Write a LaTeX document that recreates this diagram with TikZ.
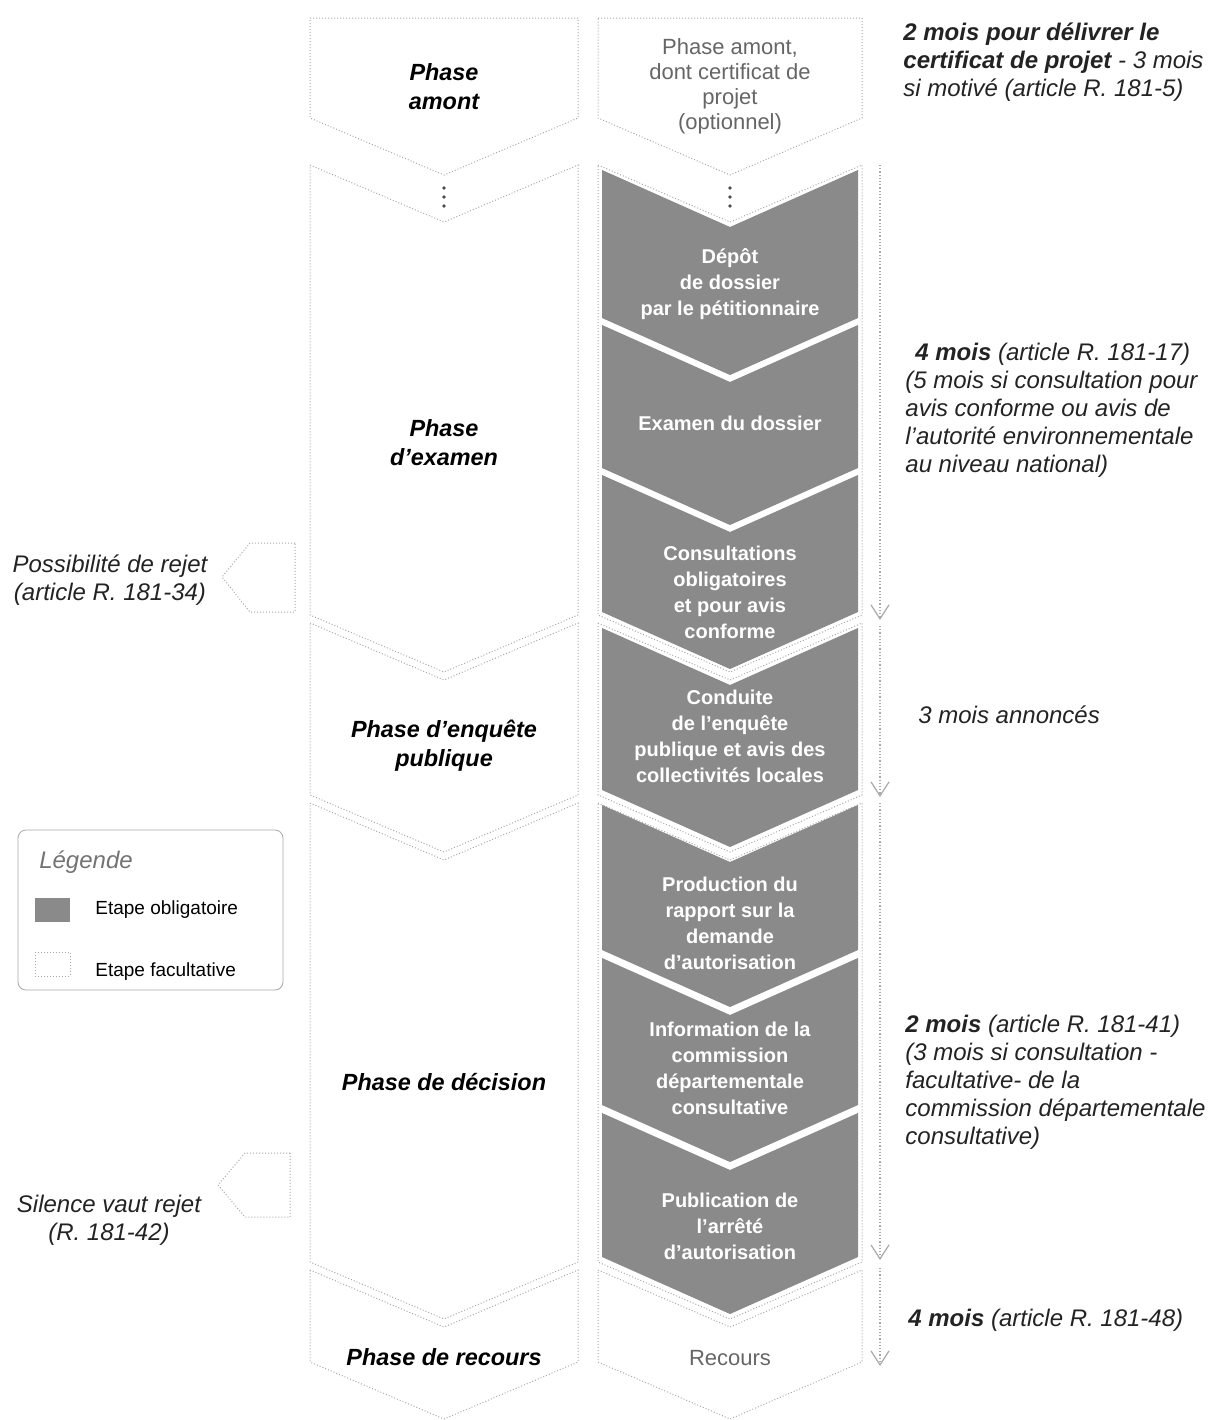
\documentclass[tikz,border=0pt]{standalone}
\usepackage{fontspec}
\setmainfont{Liberation Sans}
\usepackage{tikz}
\usetikzlibrary{arrows.meta}
\definecolor{lineg}{RGB}{168,168,168}
\definecolor{stepg}{RGB}{138,138,138}
\definecolor{textg}{RGB}{35,35,35}

\begin{document}
\begin{tikzpicture}[x=0.5pt,y=-0.5pt,
  phase/.style={draw=lineg,densely dotted,line width=0.5pt},
  stepbox/.style={fill=stepg},
  phaselab/.style={font=\fontsize{11.7}{14.5}\selectfont\bfseries\itshape,align=center},
  steplab/.style={font=\fontsize{10}{13}\selectfont\bfseries,text=white,align=center},
  optlab/.style={font=\fontsize{11}{12.5}\selectfont,text=black!60,align=center},
  delay/.style={font=\fontsize{12}{14}\selectfont\itshape,text=textg,align=left,inner sep=0pt},
  legtext/.style={font=\fontsize{9.5}{11}\selectfont,anchor=west,inner sep=0pt},
  timeline/.style={draw=lineg,densely dotted,line width=0.6pt,-{Straight Barb[length=7pt,width=9pt]}}]
\useasboundingbox (0,0) rectangle (1210,1420);

% colonnes des phases
\foreach \l/\c/\r in {310/444/578,598/730/862}{
  \draw[phase] (\l,18) -- (\r,18) -- (\r,118) -- (\c,175) -- (\l,118) -- cycle;
  \foreach \t/\b in {165/615,623/795,803/1262,1270/1362}
    \draw[phase] (\l,\t) -- (\c,\t+57) -- (\r,\t) -- (\r,\b) -- (\c,\b+57) -- (\l,\b) -- cycle;
  % points de suspension
  \foreach \y in {188,197,206}
    \fill[black!70] (\c,\y) circle (0.9pt);
}

% etapes obligatoires
\foreach \t/\b/\ty/\txt [count=\i] in {
  170/318/284/{Dépôt\\de dossier\\par le pétitionnaire},
  325/468/423/{Examen du dossier},
  475/612/592/{Consultations\\obligatoires\\et pour avis\\conforme},
  628/790/736/{Conduite\\de l’enquête\\publique et avis des\\collectivités locales},
  805/950/923/{Production du\\rapport sur la\\demande\\d’autorisation},
  958/1105/1068/{Information de la\\commission\\départementale\\consultative},
  1113/1257/1226/{Publication de\\l’arrêté\\d’autorisation}}{
  \fill[stepbox] (602,\t) -- (730,\t+57) -- (858,\t) -- (858,\b) -- (730,\b+57) -- (602,\b) -- cycle;
  \node[steplab] (step\i) at (730,\ty) {\txt};
}

% phases
\node[phaselab] (phAmont) at (444,87) {Phase\\amont};
\node[phaselab] (phExam) at (444,443) {Phase\\d’examen};
\node[phaselab] (phEnq) at (444,746) {Phase d’enquête\\publique};
\node[phaselab] (phDec) at (444,1082) {Phase de décision};
\node[phaselab] (phRec) at (444,1357) {Phase de recours};

\node[optlab] (optAmont) at (730,86) {Phase amont,\\dont certificat de\\projet\\(optionnel)};
\node[optlab] (optRec) at (730,1358) {Recours};

% delais
\foreach \s/\e [count=\k] in {165/620,626/797,803/1260,1268/1366}{
  \coordinate (arr\k s) at (880,\s);
  \coordinate (arr\k e) at (880,\e);
  \draw[timeline] (arr\k s) -- (arr\k e);
}
\node[delay,anchor=north west] (dly1) at (903,22) {\textbf{2 mois pour délivrer le}\\\textbf{certificat de projet} - 3 mois\\si motivé (article R. 181-5)};
\node[delay,anchor=north west] (dly2) at (905,343) {\hspace*{5pt}\textbf{4 mois} (article R. 181-17)\\(5 mois si consultation pour\\avis conforme ou avis de\\l’autorité environnementale\\au niveau national)};
\node[delay,anchor=west] (dly3) at (918,715) {3 mois annoncés};
\node[delay,anchor=north west] (dly4) at (905,1015) {\textbf{2 mois} (article R. 181-41)\\(3 mois si consultation -\\facultative- de la\\commission départementale\\consultative)};
\node[delay,anchor=west] (dly5) at (908,1320) {\textbf{4 mois} (article R. 181-48)};

% rejets
\draw[phase] (295,543) -- (250,543) -- (222,577) -- (250,612) -- (295,612) -- cycle;
\draw[phase] (290,1153) -- (245,1153) -- (218,1185) -- (245,1217) -- (290,1217) -- cycle;
\node[delay,align=center] (rej1) at (110,580) {Possibilité de rejet\\(article R. 181-34)};
\node[delay,align=center] (rej2) at (109,1220) {Silence vaut rejet\\(R. 181-42)};

% legende
\draw[lineg,rounded corners=4pt] (18,830) rectangle (283,990);
\node[font=\fontsize{12}{14}\selectfont\itshape,text=black!55] (legTit) at (86,862) {Légende};
\fill[stepg] (35,898) rectangle (70,922);
\draw[phase] (35,952) rectangle (70,976);
\node[legtext] (legOb) at (95,910) {Etape obligatoire};
\node[legtext] (legFa) at (95,972) {Etape facultative};
\end{tikzpicture}
\end{document}
